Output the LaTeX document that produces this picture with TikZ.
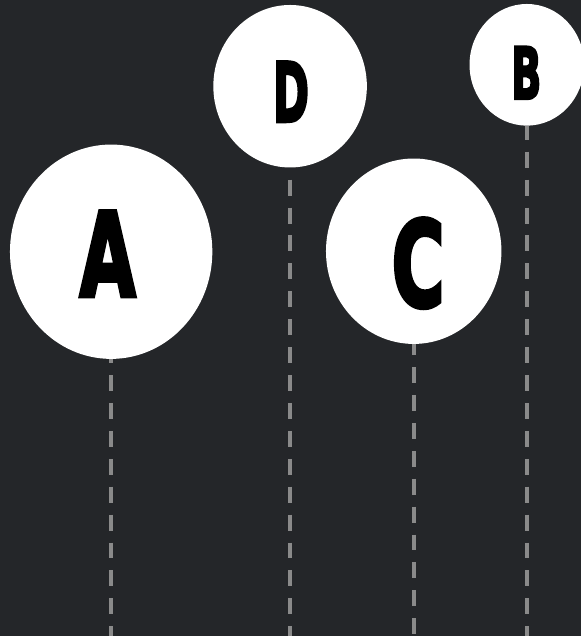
\documentclass[tikz,border=0pt]{standalone}
\usepackage{fontspec}
\usepackage{graphicx}
\usepackage{tikz}
\usetikzlibrary{shapes.geometric}
\newfontfamily\letterfont{DejaVu Sans}[BoldFeatures={FakeBold=4}]
\definecolor{chalkboard}{RGB}{36,38,41}
\definecolor{stemgrey}{RGB}{138,138,138}
\newcommand{\bigletter}[3]{\resizebox{#1pt}{#2pt}{\letterfont\bfseries #3}}

\begin{document}
\begin{tikzpicture}[x=1pt, y=-1pt,
  every node/.style={inner sep=0pt},
  bubble/.style={ellipse, fill=white, inner sep=0pt},
  stem/.style={draw=stemgrey, line width=4pt, dash pattern=on 16pt off 12pt}]
  % board
  \fill[chalkboard] (0,0) rectangle (583,638);
  \coordinate (floor) at (0,638);

  % bubbles
  \node[bubble, minimum width=203pt, minimum height=215pt] (A) at (111.5,252.5) {};
  \node[bubble, minimum width=154pt, minimum height=163pt] (D) at (291,86.5) {};
  \node[bubble, minimum width=176pt, minimum height=186pt] (C) at (415,252) {};
  \node[bubble, minimum width=115pt, minimum height=122pt] (B) at (528.5,65) {};

  % letters
  \node (A-letter) at (108,254.5) {\bigletter{56}{85}{A}};
  \node (D-letter) at (292,92) {\bigletter{36}{60}{D}};
  \node (C-letter) at (419.5,264) {\bigletter{53}{88}{C}};
  \node (B-letter) at (528,73) {\bigletter{30}{52}{B}};

  % stems
  \draw[stem, dash phase=12pt] (A.south) -- (A.south |- floor);
  \draw[stem, dash phase=16pt] (D.south) -- (D.south |- floor);
  \draw[stem, dash phase=5pt] (C.south) -- (C.south |- floor);
  \draw[stem, dash phase=2pt] (B.south) -- (B.south |- floor);
\end{tikzpicture}
\end{document}
